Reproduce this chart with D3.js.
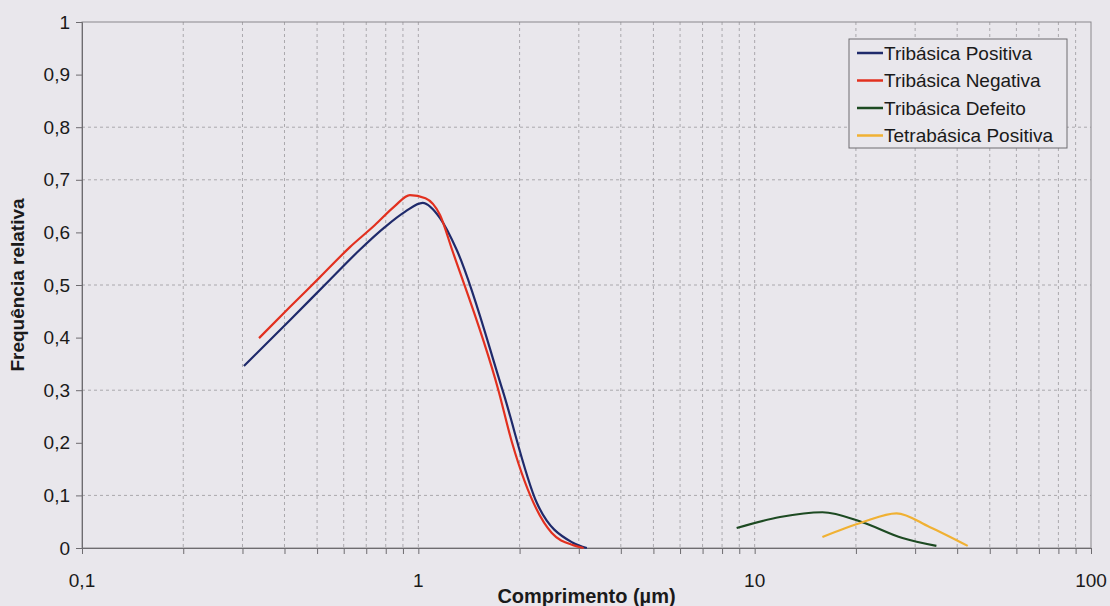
<!DOCTYPE html>
<html>
<head>
<meta charset="utf-8">
<script src="https://cdn.jsdelivr.net/npm/d3@7"></script>
<style>
  body { margin: 0; background: #e9e7ec; }
  svg { display: block; }
</style>
</head>
<body>
<div id="chart"></div>
<script>
// Series (x in µm, y = relative frequency)
const seriesNames = ["Tribásica Positiva", "Tribásica Negativa", "Tribásica Defeito", "Tetrabásica Positiva"];
const seriesColors = ["#1f2a6b", "#e2301f", "#1d4a22", "#f0b133"];

const positivaX = [0.303, 0.415, 0.546, 0.670, 0.795, 0.912, 1.03, 1.16, 1.30, 1.78, 2.25, 2.88, 3.17];
const positivaY = [0.346, 0.433, 0.510, 0.567, 0.610, 0.639, 0.656, 0.627, 0.567, 0.300, 0.086, 0.010, 0.0];

const negativaX = [0.336, 0.415, 0.510, 0.626, 0.743, 0.851, 0.944, 1.05, 1.16, 1.26, 1.73, 1.90, 2.49, 2.9, 3.1];
const negativaY = [0.399, 0.458, 0.515, 0.572, 0.614, 0.650, 0.671, 0.665, 0.633, 0.567, 0.300, 0.200, 0.029, 0.005, 0.0];

const defeitoX = [8.84, 11.9, 15.9, 20.9, 27.5, 34.7];
const defeitoY = [0.038, 0.059, 0.068, 0.049, 0.019, 0.004];

const tetraX = [15.9, 20.9, 26.4, 33.1, 43.0];
const tetraY = [0.021, 0.049, 0.066, 0.040, 0.004];

const yTicks = [0, 0.1, 0.2, 0.3, 0.4, 0.5, 0.6, 0.7, 0.8, 0.9, 1];
const yGridVisible = [0.1, 0.3, 0.5, 0.7, 0.8];   // the scan only shows these
const xMajorTicks = [0.1, 1, 10, 100];

const W = 1110, H = 606;
const margin = { top: 22, right: 19, bottom: 58, left: 82 };
const width = W - margin.left - margin.right;
const height = H - margin.top - margin.bottom;

const svg = d3.select("#chart").append("svg")
    .attr("width", W)
    .attr("height", H);

svg.append("rect").attr("width", W).attr("height", H).attr("fill", "#e9e7ec");

const g = svg.append("g").attr("transform", `translate(${margin.left},${margin.top})`);

const x = d3.scaleLog().domain([0.1, 100]).range([0, width]);
const y = d3.scaleLinear().domain([0, 1]).range([height, 0]);

// minor log ticks (2..9 per decade)
const xAllTicks = x.ticks().filter(v => v > 0.1 && v < 100);

// vertical grid
g.append("g")
    .selectAll("line")
    .data(xAllTicks)
    .enter().append("line")
    .attr("x1", d => x(d)).attr("x2", d => x(d))
    .attr("y1", 0).attr("y2", height)
    .attr("stroke", "#aaa8ad")
    .attr("stroke-width", 1)
    .attr("stroke-dasharray", "3,3");

// horizontal grid
g.append("g")
    .selectAll("line")
    .data(yGridVisible)
    .enter().append("line")
    .attr("x1", 0).attr("x2", width)
    .attr("y1", d => y(d)).attr("y2", d => y(d))
    .attr("stroke", "#aaa8ad")
    .attr("stroke-width", 1)
    .attr("stroke-dasharray", "3,3");

// plot border
g.append("rect")
    .attr("width", width).attr("height", height)
    .attr("fill", "none")
    .attr("stroke", "#8a888c")
    .attr("stroke-width", 1);

// y axis
const yAxis = g.append("g")
    .call(d3.axisLeft(y).tickValues(yTicks).tickSize(6).tickPadding(6)
        .tickFormat(d => d3.format("~g")(d).replace(".", ",")));
yAxis.select(".domain").attr("stroke", "#6e6c70");
yAxis.selectAll("line").attr("stroke", "#6e6c70");
yAxis.selectAll("text")
    .attr("font-family", "'Liberation Sans', Arial, sans-serif")
    .attr("font-size", "19px")
    .attr("fill", "#1a1a1a");

// x axis
const xAxis = g.append("g")
    .attr("transform", `translate(0,${height})`)
    .call(d3.axisBottom(x).tickValues(x.ticks()).tickSize(6).tickFormat(""));
xAxis.select(".domain").attr("stroke", "#6e6c70");
xAxis.selectAll("line").attr("stroke", "#6e6c70");

g.append("g")
    .selectAll("text")
    .data(xMajorTicks)
    .enter().append("text")
    .attr("x", d => x(d))
    .attr("y", height + 39)
    .attr("text-anchor", "middle")
    .attr("font-family", "'Liberation Sans', Arial, sans-serif")
    .attr("font-size", "19px")
    .attr("fill", "#1a1a1a")
    .text(d => String(d).replace(".", ","));

// axis titles, centred on the plot area as Excel does
svg.append("text")
    .attr("x", margin.left + width / 2)
    .attr("y", 603)
    .attr("text-anchor", "middle")
    .attr("font-family", "'Liberation Sans', Arial, sans-serif")
    .attr("font-size", "20px")
    .attr("font-weight", "bold")
    .attr("fill", "#1a1a1a")
    .text("Comprimento (µm)");

svg.append("text")
    .attr("transform", `translate(24,${margin.top + height / 2}) rotate(-90)`)
    .attr("text-anchor", "middle")
    .attr("font-family", "'Liberation Sans', Arial, sans-serif")
    .attr("font-size", "19px")
    .attr("font-weight", "bold")
    .attr("fill", "#1a1a1a")
    .text("Frequência relativa");

// curves
const seriesData = [
    d3.zip(positivaX, positivaY),
    d3.zip(negativaX, negativaY),
    d3.zip(defeitoX, defeitoY),
    d3.zip(tetraX, tetraY)
];

const line = d3.line()
    .x(d => x(d[0]))
    .y(d => y(d[1]))
    .curve(d3.curveMonotoneX);

seriesData.forEach((pts, i) => {
    g.append("path")
        .datum(pts)
        .attr("fill", "none")
        .attr("stroke", seriesColors[i])
        .attr("stroke-width", 2.2)
        .attr("stroke-linejoin", "round")
        .attr("d", line);
});

// legend
const legend = svg.append("g").attr("transform", "translate(849,39)");
legend.append("rect")
    .attr("width", 218).attr("height", 109)
    .attr("fill", "#e9e7ec")
    .attr("stroke", "#6e6c70")
    .attr("stroke-width", 1);

const rows = legend.selectAll("g.row")
    .data(seriesNames)
    .enter().append("g")
    .attr("class", "row")
    .attr("transform", (d, i) => `translate(0,${14 + i * 27.5})`);

rows.append("line")
    .attr("x1", 8).attr("x2", 34)
    .attr("stroke", (d, i) => seriesColors[i])
    .attr("stroke-width", 2.5);

rows.append("text")
    .attr("x", 35)
    .attr("dy", "0.35em")
    .attr("font-family", "'Liberation Sans', Arial, sans-serif")
    .attr("font-size", "19px")
    .attr("fill", "#1a1a1a")
    .text(d => d);
</script>
</body>
</html>
